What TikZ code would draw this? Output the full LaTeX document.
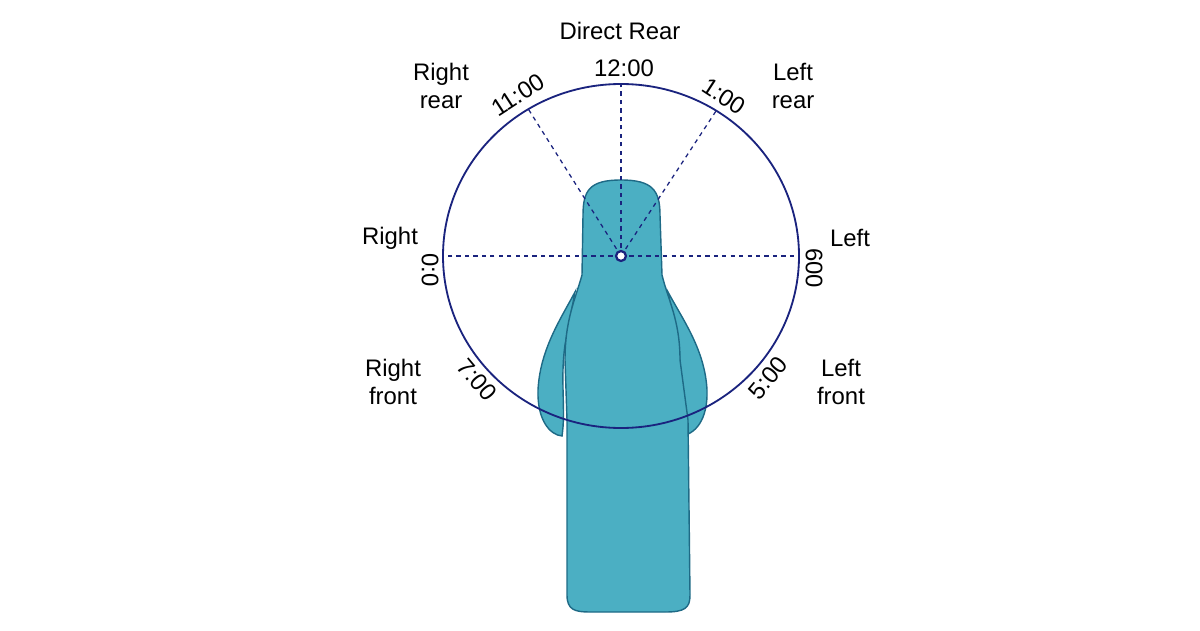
\documentclass[tikz,border=0pt]{standalone}
\usepackage{fontspec}
\setmainfont{Liberation Sans}
\usetikzlibrary{positioning}
\definecolor{ringblue}{HTML}{1A237E}
\definecolor{bodyfill}{HTML}{4BAFC3}
\definecolor{bodyline}{HTML}{1E6A86}
\tikzset{
  lbl/.style={font=\fontsize{17}{20}\selectfont,align=center,text=black},
  ray/.style={ringblue,dashed,line width=0.9pt},
  figure/.style={fill=bodyfill,draw=bodyline,line width=1pt}
}
\begin{document}
\begin{tikzpicture}[x=0.025cm,y=-0.025cm]
        \useasboundingbox (0,0) rectangle (1200,630);
        \fill[white] (0,0) rectangle (1200,630);

        % figure seen from above
        \path[figure] (575,292) .. controls (560,320) and (540,350) .. (538,390)
              .. controls (537,420) and (550,435) .. (562,436)
              .. controls (566,410) and (560,380) .. (565,345) -- cycle;
        \path[figure] (668,292) .. controls (683,320) and (705,350) .. (707,390)
              .. controls (708,420) and (695,435) .. (680,436)
              .. controls (677,410) and (684,380) .. (678,345) -- cycle;
        \path[figure] (621,180) .. controls (590,180) and (583,190) .. (583,215)
              -- (582,275) .. controls (575,300) and (565,320) .. (565,360)
              -- (567,420) -- (567,595) .. controls (567,610) and (575,612) .. (590,612)
              -- (665,612) .. controls (685,612) and (690,608) .. (690,595)
              -- (688,420) -- (680,360) .. controls (680,320) and (668,300) .. (662,275)
              -- (660,215) .. controls (660,190) and (652,180) .. (621,180) -- cycle;

        % clock ring
        \coordinate (C) at (621,256);
        \draw[ringblue,line width=1.3pt] (C) ellipse [x radius=178,y radius=172];
        \coordinate (P12) at (621,84);
        \coordinate (P11) at (527,107);
        \coordinate (P1) at (716,111);
        \coordinate (P9) at (443,256);
        \coordinate (P3) at (799,256);
        \foreach \p in {P12,P11,P1,P9,P3}
            \draw[ray] (C) -- (\p);
        \node[circle,draw=ringblue,fill=white,line width=1.6pt,inner sep=2.5pt] (hub) at (C) {};

        % labels
        \node[lbl] (top) at (620,31) {Direct Rear};
        \node[lbl] (t12) at (624,68) {12:00};
        \node[lbl,rotate=33] (t11) at (518,95) {11:00};
        \node[lbl,rotate=-33] (t1) at (724,96) {1:00};
        \node[lbl] (rr) at (441,86) {Right\\rear};
        \node[lbl] (lr) at (793,86) {Left\\rear};
        \node[lbl] (rt) at (390,238) {Right};
        \node[lbl,rotate=-90] (t9) at (430,270) {0:0};
        \node[lbl] (lt) at (850,238) {Left};
        \node[lbl,rotate=-90] (t3) at (814,268) {600};
        \node[lbl] (rf) at (393,382) {Right\\front};
        \node[lbl,rotate=-50] (t7) at (477,380) {7:00};
        \node[lbl,rotate=50] (t5) at (768,378) {5:00};
        \node[lbl] (lf) at (841,382) {Left\\front};
\end{tikzpicture}
\end{document}
